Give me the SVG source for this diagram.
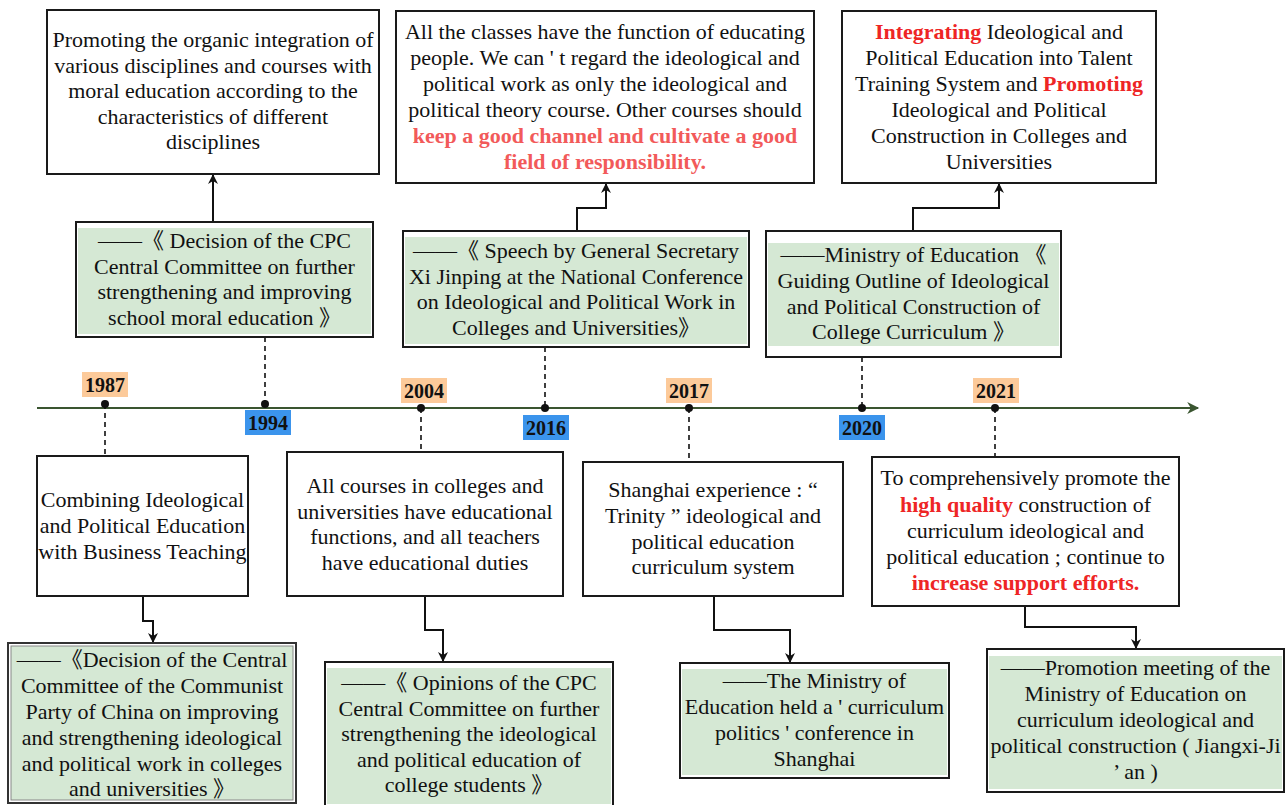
<svg xmlns="http://www.w3.org/2000/svg" width="1288" height="805" viewBox="0 0 1288 805">
<defs>
<style>
text{font-family:"Liberation Serif","Noto Sans CJK SC",serif;font-size:22px;fill:#111;text-anchor:middle}
.box{fill:#fff;stroke:#1a1a1a;stroke-width:2}
.gfill{fill:#d5e8d4;stroke:none}
.red{fill:#ee2525;font-weight:bold}
.red2{fill:#f25a5a;font-weight:bold}
.year{font-weight:bold;font-size:20px}
.orange{fill:#fcca9a}
.blue{fill:#3b94ec}
.dash{stroke:#111;stroke-width:1.6;stroke-dasharray:5,4;fill:none}
.conn{stroke:#111;stroke-width:2;fill:none}
</style>
<marker id="ah" viewBox="0 0 10 10" refX="9" refY="5" markerWidth="10" markerHeight="10" markerUnits="userSpaceOnUse" orient="auto">
<path d="M0,0 L10,5 L0,10 L3,5 z" fill="#111"/>
</marker>
<marker id="tl" viewBox="0 0 10 10" refX="9" refY="5" markerWidth="14" markerHeight="12" markerUnits="userSpaceOnUse" orient="auto">
<path d="M0,0 L10,5 L0,10 L3,5 z" fill="#3a5530"/>
</marker>
</defs>
<rect width="1288" height="805" fill="#fff"/>

<g id="connectors">
<line x1="37" y1="408" x2="1198" y2="408" stroke="#3a5530" stroke-width="2.2" marker-end="url(#tl)"/>
<path class="conn" d="M213,222 V175" marker-end="url(#ah)"/>
<path class="conn" d="M577,231 V208 H606 V184" marker-end="url(#ah)"/>
<path class="conn" d="M913,231 V208 H999 V184" marker-end="url(#ah)"/>
<path class="conn" d="M143,596 V621 H153 V642" marker-end="url(#ah)"/>
<path class="conn" d="M425,596 V630 H443 V661" marker-end="url(#ah)"/>
<path class="conn" d="M714,596 V630 H790 V662" marker-end="url(#ah)"/>
<path class="conn" d="M1025,606 V627 H1136 V648" marker-end="url(#ah)"/>
<path class="dash" d="M105,404 V457"/>
<path class="dash" d="M265,337 V404"/>
<path class="dash" d="M421,408 V452"/>
<path class="dash" d="M545,347 V408"/>
<path class="dash" d="M689,408 V462"/>
<path class="dash" d="M862,357 V408"/>
<path class="dash" d="M995,408 V457"/>
<circle cx="105" cy="404" r="4" fill="#111"/>
<circle cx="265" cy="404" r="4" fill="#111"/>
<circle cx="421" cy="408" r="4" fill="#111"/>
<circle cx="545" cy="408" r="4" fill="#111"/>
<circle cx="689" cy="408" r="4" fill="#111"/>
<circle cx="862" cy="408" r="4" fill="#111"/>
<circle cx="995" cy="408" r="4" fill="#111"/>
</g>

<g id="y1987"><rect class="orange" x="82" y="372" width="46" height="25"/><text class="year" x="105" y="392">1987</text></g>
<g id="y1994"><rect class="blue" x="245" y="410" width="46" height="25"/><text class="year" x="268" y="430">1994</text></g>
<g id="y2004"><rect class="orange" x="401" y="378" width="46" height="25"/><text class="year" x="424" y="398">2004</text></g>
<g id="y2016"><rect class="blue" x="523" y="415" width="46" height="25"/><text class="year" x="546" y="435">2016</text></g>
<g id="y2017"><rect class="orange" x="666" y="378" width="46" height="25"/><text class="year" x="689" y="398">2017</text></g>
<g id="y2020"><rect class="blue" x="839" y="415" width="46" height="25"/><text class="year" x="862" y="435">2020</text></g>
<g id="y2021"><rect class="orange" x="973" y="378" width="46" height="25"/><text class="year" x="996" y="398">2021</text></g>

<g id="top1994">
<rect class="box" x="47" y="10" width="332" height="164"/>
<text><tspan x="213" y="47">Promoting the organic integration of</tspan><tspan x="213" y="72.5">various disciplines and courses with</tspan><tspan x="213" y="98">moral education according to the</tspan><tspan x="213" y="123.5">characteristics of different</tspan><tspan x="213" y="149">disciplines</tspan></text>
</g>
<g id="src1994">
<rect class="box" x="76" y="222" width="297" height="115"/>
<rect class="gfill" x="78" y="228" width="293" height="106"/>
<text><tspan x="224.5" y="248">——《 Decision of the CPC</tspan><tspan x="224.5" y="274">Central Committee on further</tspan><tspan x="224.5" y="299">strengthening and improving</tspan><tspan x="224.5" y="325">school moral education 》</tspan></text>
</g>

<g id="top2016">
<rect class="box" x="396" y="11" width="418" height="172"/>
<text><tspan x="605" y="39">All the classes have the function of educating</tspan><tspan x="605" y="65">people. We can ' t regard the ideological and</tspan><tspan x="605" y="91">political work as only the ideological and</tspan><tspan x="605" y="117">political theory course. Other courses should</tspan><tspan x="605" y="143" class="red2">keep a good channel and cultivate a good</tspan><tspan x="605" y="169" class="red2">field of responsibility.</tspan></text>
</g>
<g id="src2016">
<rect class="box" x="403" y="231" width="346" height="116"/>
<rect class="gfill" x="405" y="237" width="342" height="107"/>
<text><tspan x="576" y="258">——《 Speech by General Secretary</tspan><tspan x="576" y="284">Xi Jinping at the National Conference</tspan><tspan x="576" y="309">on Ideological and Political Work in</tspan><tspan x="576" y="335">Colleges and Universities》</tspan></text>
</g>

<g id="top2020">
<rect class="box" x="842" y="11" width="314" height="172"/>
<text><tspan x="999" y="39"><tspan class="red">Integrating</tspan> Ideological and</tspan><tspan x="999" y="65">Political Education into Talent</tspan><tspan x="999" y="91">Training System and <tspan class="red">Promoting</tspan></tspan><tspan x="999" y="117">Ideological and Political</tspan><tspan x="999" y="143">Construction in Colleges and</tspan><tspan x="999" y="169">Universities</tspan></text>
</g>
<g id="src2020">
<rect class="box" x="766" y="231" width="295" height="126"/>
<rect class="gfill" x="768" y="243" width="291" height="103"/>
<text><tspan x="913.5" y="262">——Ministry of Education 《</tspan><tspan x="913.5" y="288">Guiding Outline of Ideological</tspan><tspan x="913.5" y="314">and Political Construction of</tspan><tspan x="913.5" y="339">College Curriculum 》</tspan></text>
</g>

<g id="b1987">
<rect class="box" x="37" y="456" width="211" height="140"/>
<text><tspan x="142.5" y="507">Combining Ideological</tspan><tspan x="142.5" y="533">and Political Education</tspan><tspan x="142.5" y="559">with Business Teaching</tspan></text>
</g>
<g id="src1987">
<rect x="8" y="643" width="288" height="160" fill="#fff" stroke="#333" stroke-width="2"/>
<rect x="11" y="646" width="282" height="154" fill="#d5e8d4" stroke="#888" stroke-width="1"/>
<text><tspan x="152" y="667">——《Decision of the Central</tspan><tspan x="152" y="693">Committee of the Communist</tspan><tspan x="152" y="719">Party of China on improving</tspan><tspan x="152" y="745">and strengthening ideological</tspan><tspan x="152" y="771">and political work in colleges</tspan><tspan x="152" y="796">and universities 》</tspan></text>
</g>

<g id="b2004">
<rect class="box" x="287" y="452" width="276" height="144"/>
<text><tspan x="425" y="493">All courses in colleges and</tspan><tspan x="425" y="519">universities have educational</tspan><tspan x="425" y="544">functions, and all teachers</tspan><tspan x="425" y="570">have educational duties</tspan></text>
</g>
<g id="src2004">
<rect class="box" x="325" y="662" width="288" height="146"/>
<rect class="gfill" x="327" y="668" width="284" height="136"/>
<text><tspan x="469" y="690">——《 Opinions of the CPC</tspan><tspan x="469" y="715.5">Central Committee on further</tspan><tspan x="469" y="741">strengthening the ideological</tspan><tspan x="469" y="766.5">and political education of</tspan><tspan x="469" y="792">college students 》</tspan></text>
</g>

<g id="b2017">
<rect class="box" x="583" y="462" width="260" height="134"/>
<text><tspan x="713" y="497">Shanghai experience : “</tspan><tspan x="713" y="523">Trinity ” ideological and</tspan><tspan x="713" y="549">political education</tspan><tspan x="713" y="574">curriculum system</tspan></text>
</g>
<g id="src2017">
<rect class="box" x="680" y="663" width="269" height="115"/>
<rect class="gfill" x="682" y="669" width="265" height="106"/>
<text><tspan x="814.5" y="688">——The Ministry of</tspan><tspan x="814.5" y="714">Education held a ' curriculum</tspan><tspan x="814.5" y="740">politics ' conference in</tspan><tspan x="814.5" y="766">Shanghai</tspan></text>
</g>

<g id="b2021">
<rect class="box" x="872" y="457" width="307" height="149"/>
<text><tspan x="1025.5" y="485">To comprehensively promote the</tspan><tspan x="1025.5" y="512"><tspan class="red">high quality</tspan> construction of</tspan><tspan x="1025.5" y="538">curriculum ideological and</tspan><tspan x="1025.5" y="564">political education ; continue to</tspan><tspan x="1025.5" y="590" class="red">increase support efforts.</tspan></text>
</g>
<g id="src2021">
<rect class="box" x="987" y="649" width="297" height="143"/>
<rect class="gfill" x="989" y="656" width="293" height="133"/>
<text><tspan x="1135.5" y="675">——Promotion meeting of the</tspan><tspan x="1135.5" y="701">Ministry of Education on</tspan><tspan x="1135.5" y="727">curriculum ideological and</tspan><tspan x="1135.5" y="753">political construction ( Jiangxi-Ji</tspan><tspan x="1135.5" y="779">’ an )</tspan></text>
</g>
</svg>
